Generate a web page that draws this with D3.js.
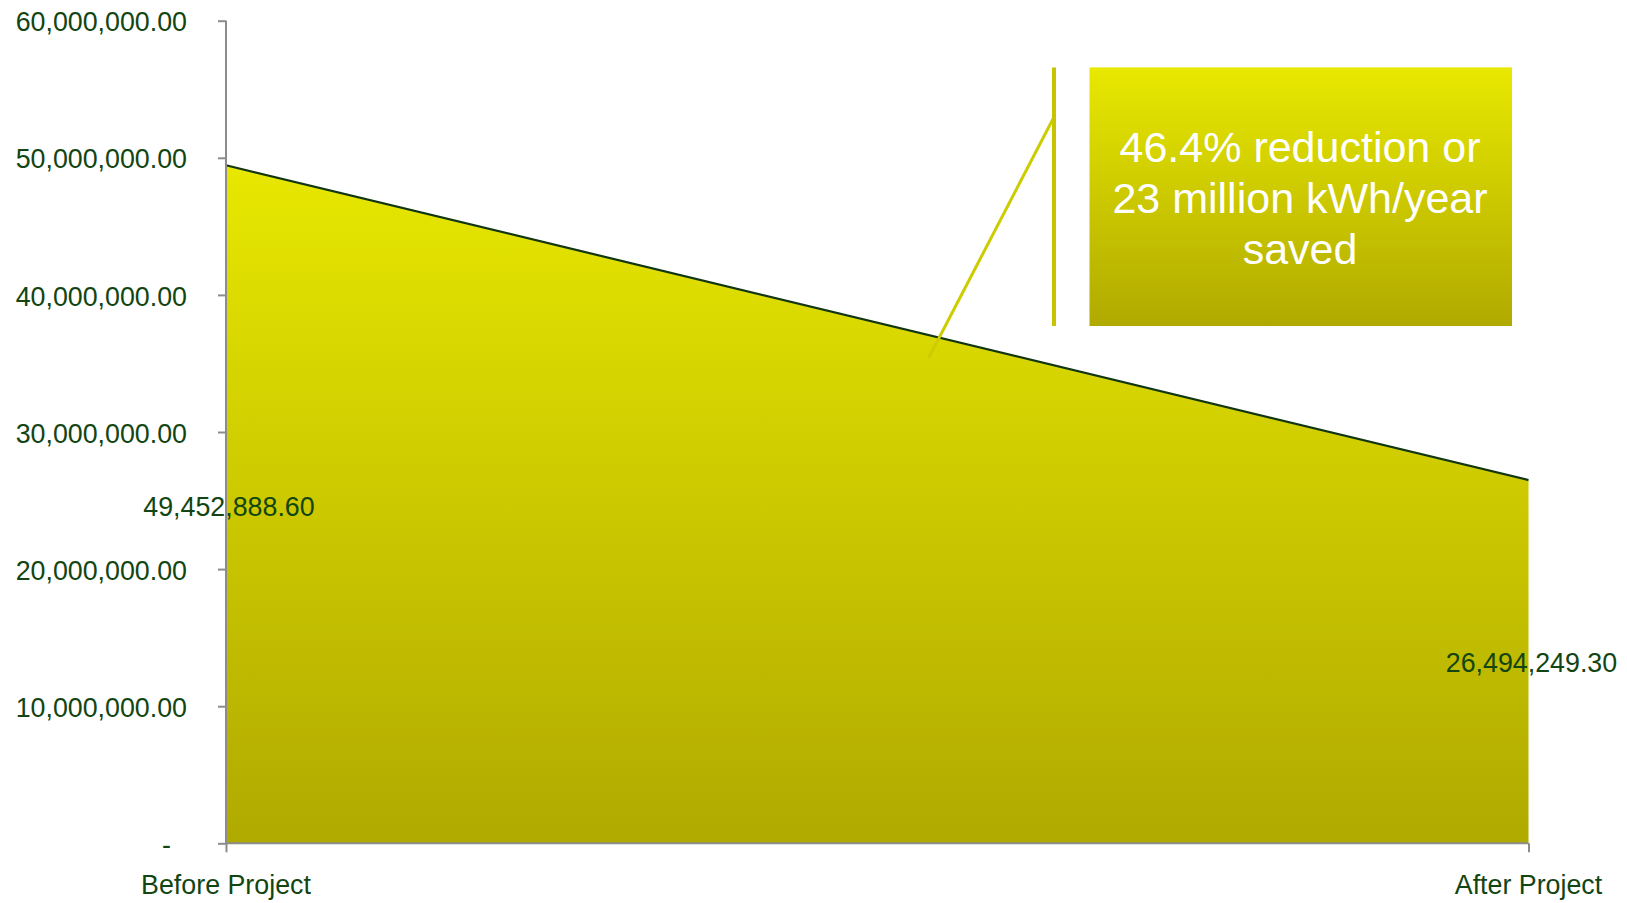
<!DOCTYPE html>
<html>
<head>
<meta charset="utf-8">
<script src="https://cdn.jsdelivr.net/npm/d3@7"></script>
<style>
	body { margin: 0; background: #fff; }
	text { font-family: "Liberation Sans", Arial, sans-serif; }
</style>
</head>
<body>
<div id="chart"></div>
<script>
var width = 1627;
var height = 903;

// chart data
var categories = ["Before Project", "After Project"];
var energy = [49452888.60, 26494249.30];
var yTicks = [0, 10000000, 20000000, 30000000, 40000000, 50000000, 60000000];
var noteLines = ["46.4% reduction or", "23 million kWh/year", "saved"];

var data = categories.map(function (c, i) { return { name: c, value: energy[i] }; });

var xScale = d3.scalePoint().domain(categories).range([226, 1528.5]);
var yScale = d3.scaleLinear().domain([0, 60000000]).range([843.3, 20.7]);

var svg = d3.select("#chart")
	.append("svg")
	.attr("width", width)
	.attr("height", height);

var defs = svg.append("defs");
var grad = defs.append("linearGradient")
	.attr("id", "fillGrad")
	.attr("gradientUnits", "userSpaceOnUse")
	.attr("x1", 0).attr("y1", yScale(50000000))
	.attr("x2", 0).attr("y2", yScale(0));
grad.append("stop").attr("offset", "0%").attr("stop-color", "#e8e800");
grad.append("stop").attr("offset", "100%").attr("stop-color", "#b0aa00");

var boxGrad = defs.append("linearGradient")
	.attr("id", "boxGrad")
	.attr("x1", 0).attr("y1", 0).attr("x2", 0).attr("y2", 1);
boxGrad.append("stop").attr("offset", "0%").attr("stop-color", "#e8e800");
boxGrad.append("stop").attr("offset", "100%").attr("stop-color", "#b0aa00");

// area
var area = d3.area()
	.x(function (d) { return xScale(d.name); })
	.y0(yScale(0))
	.y1(function (d) { return yScale(d.value); });

svg.append("path")
	.datum(data)
	.attr("d", area)
	.attr("fill", "url(#fillGrad)");

var line = d3.line()
	.x(function (d) { return xScale(d.name); })
	.y(function (d) { return yScale(d.value); });

svg.append("path")
	.datum(data)
	.attr("d", line)
	.attr("fill", "none")
	.attr("stroke", "#123612")
	.attr("stroke-width", 2.2);

// axes
var yAxis = d3.axisLeft(yScale)
	.tickValues(yTicks)
	.tickSize(8)
	.tickPadding(31)
	.tickFormat(function (d) { return d === 0 ? "-" : d3.format(",.2f")(d); });

var gy = svg.append("g")
	.attr("transform", "translate(226,0)")
	.call(yAxis);

var xAxis = d3.axisBottom(xScale)
	.tickSize(9)
	.tickFormat("");

var gx = svg.append("g")
	.attr("transform", "translate(0,843.3)")
	.call(xAxis);

[gy, gx].forEach(function (g) {
	g.select(".domain").attr("stroke", "#8c8c8c").attr("stroke-width", 2);
	g.selectAll(".tick line").attr("stroke", "#8c8c8c").attr("stroke-width", 2);
});
gy.select(".domain").attr("d", "M0," + yScale(60000000) + "V" + yScale(0));
gy.selectAll(".tick text")
	.attr("fill", "#124512")
	.attr("font-size", 26.8)
	.attr("dy", "0.38em")
	.attr("font-family", "Liberation Sans, Arial, sans-serif")
	.filter(function (d) { return d === 0; })
	.attr("x", -55);
gx.select(".domain").attr("d", "M226,0H" + xScale(categories[1]));

// category labels
svg.selectAll(".cat")
	.data(categories)
	.enter()
	.append("text")
	.attr("class", "cat")
	.attr("x", function (d) { return xScale(d); })
	.attr("y", 894)
	.attr("text-anchor", "middle")
	.attr("font-size", 26.8)
	.attr("fill", "#124512")
	.text(function (d) { return d; });

// data labels
var labelY = [515.5, 672];
svg.selectAll(".val")
	.data(data)
	.enter()
	.append("text")
	.attr("class", "val")
	.attr("x", function (d) { return xScale(d.name) + 3; })
	.attr("y", function (d, i) { return labelY[i]; })
	.attr("text-anchor", "middle")
	.attr("font-size", 26.8)
	.attr("fill", "#124512")
	.text(function (d) { return d3.format(",.2f")(d.value); });

// callout
svg.append("line")
	.attr("x1", 928.6).attr("y1", 358)
	.attr("x2", 1054).attr("y2", 117)
	.attr("stroke", "#cccc00")
	.attr("stroke-width", 3);
svg.append("line")
	.attr("x1", 1054).attr("y1", 67.4)
	.attr("x2", 1054).attr("y2", 326)
	.attr("stroke", "#c8c400")
	.attr("stroke-width", 4);
svg.append("rect")
	.attr("x", 1089.5).attr("y", 67.4)
	.attr("width", 422.5).attr("height", 258.6)
	.attr("fill", "url(#boxGrad)");

svg.append("text")
	.attr("text-anchor", "middle")
	.attr("font-size", 43)
	.attr("fill", "#ffffff")
	.selectAll("tspan")
	.data(noteLines)
	.enter()
	.append("tspan")
	.attr("x", 1300)
	.attr("y", function (d, i) { return 162 + i * 51; })
	.text(function (d) { return d; });
</script>
</body>
</html>
